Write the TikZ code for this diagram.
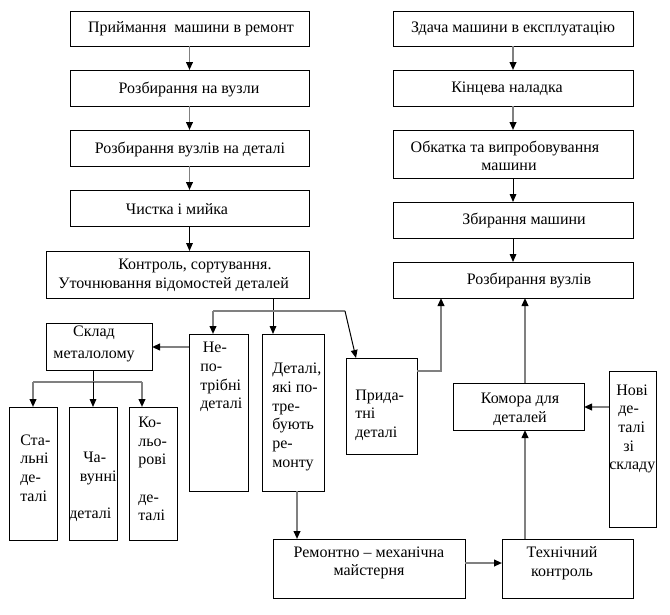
\documentclass[tikz,border=0pt]{standalone}
\usepackage{fontspec}
\setmainfont{Liberation Serif}
\usetikzlibrary{arrows.meta}
\newcommand\mkbox[5]{\node[box,minimum width={(#4-#2)*0.75pt},minimum height={(#5-#3)*0.75pt}] (#1) at ({(#2+#4)/2},{(#3+#5)/2}) {};}
\begin{document}
\begin{tikzpicture}[x=0.75pt,y=-0.75pt,
  box/.style={draw,line width=0.75pt,inner sep=0pt,outer sep=0pt},
  txt/.style={inner sep=0pt,font=\fontsize{12}{14}\selectfont},
  tipk/.style={-{Triangle[width=5pt,length=6pt,fill=black,color=black]}},
  conn/.style={draw=black!50,line width=1.3pt,tipk},
  connk/.style={draw=black,line width=0.75pt,tipk},
  ln/.style={draw=black!50,line width=1.3pt}]
\useasboundingbox (0,0) rectangle (670,614);
% left column
\mkbox{prym}{70}{11}{309}{46}
\mkbox{rnv}{70}{70}{309}{106}
\mkbox{rvd}{70}{130}{309}{166}
\mkbox{chyst}{70}{190}{309}{226}
\mkbox{kontrol}{46}{251}{309}{298}
\mkbox{sklad}{46}{323}{152}{370}
\mkbox{stal}{9}{407}{57}{540}
\mkbox{chav}{69}{407}{117}{540}
\mkbox{kolor}{129}{407}{177}{540}
\mkbox{nepotr}{189}{334}{248}{491}
\mkbox{detal}{262}{334}{324}{491}
\mkbox{pryd}{346}{358}{417}{454}
\mkbox{remont}{273}{539}{465}{598}
\mkbox{tekh}{502}{539}{633}{598}
\mkbox{komora}{453}{383}{584}{430}
\mkbox{novi}{609}{371}{656}{527}
% right column
\mkbox{zdacha}{393}{11}{633}{46}
\mkbox{kinc}{393}{70}{633}{106}
\mkbox{obk}{393}{130}{633}{178}
\mkbox{zbyr}{393}{202}{633}{238}
\mkbox{rv}{393}{262}{633}{298}

% texts
\node[txt] (tprym) at (191,29) {Приймання\ \ машини в ремонт};
\node[txt] (trnv) at (189,89) {Розбирання на вузли};
\node[txt] (trvd) at (190,149) {Розбирання вузлів на деталі};
\node[txt] (tchyst) at (177,209) {Чистка і мийка};
\node[txt,align=left,anchor=west] (tkontrol) at (58,275) {\hspace*{45pt}Контроль, сортування.\\Уточнювання відомостей деталей};
\node[txt,align=center,font=\fontsize{12}{16}\selectfont] (tsklad) at (94,344) {Склад\\металолому};
\node[txt,align=left,anchor=west] (tstal) at (20,468) {Ста-\\льні\\де-\\талі};
\node[txt,align=left,anchor=west] (tchav) at (69,487) {\hspace*{10.5pt}Ча-\\\hspace*{8pt}вунні\\[14pt]деталі};
\node[txt,align=left,anchor=west] (tkolor) at (138,469) {Ко-\\льо-\\рові\\[14pt]де-\\талі};
\node[txt,align=left,anchor=west] (tnepotr) at (200,377) {\hspace*{2pt}Не-\\по-\\трібні\\деталі};
\node[txt,align=left,anchor=west] (tdetal) at (272,417) {Деталі,\\які по-\\тре-\\бують\\ре-\\монту};
\node[txt,align=left,anchor=west] (tpryd) at (355,415) {Прида-\\тні\\деталі};
\node[txt,align=left,anchor=west] (tnovi) at (609,429) {\hspace*{5.25pt}Нові\\\hspace*{6.75pt}де-\\\hspace*{6.75pt}талі\\\hspace*{10.5pt}зі\\складу};
\node[txt,align=center] (tkomora) at (520,409) {Комора для\\деталей};
\node[txt,align=center] (tremont) at (369,563) {Ремонтно – механічна\\майстерня};
\node[txt,align=center] (ttekh) at (562,563) {Технічний\\контроль};
\node[txt] (tzdacha) at (513,29) {Здача машини в експлуатацію};
\node[txt] (tkinc) at (507,89) {Кінцева наладка};
\node[txt,align=center] (tobk) at (505,156) {Обкатка та випробовування\\\hspace*{6pt}машини};
\node[txt] (tzbyr) at (524,220) {Збирання машини};
\node[txt] (trv) at (529,280) {Розбирання вузлів};

% helper coordinates
\coordinate (split) at (273,311);
\coordinate (splitL) at (213,311);
\coordinate (splitR) at (345,311);
\coordinate (ny1) at (0,347);
\coordinate (sb) at (93,382);
\coordinate (sbL) at (33,382);
\coordinate (sbR) at (142,382);
\coordinate (dr) at (297,500);
\coordinate (rt) at (0,563);
\coordinate (vc) at (525,0);
\coordinate (ny2) at (0,407);
\coordinate (py) at (0,371);
\coordinate (px) at (441,0);

% left column connectors
\draw[conn] (prym.south) -- (rnv.north);
\draw[conn] (rnv.south) -- (rvd.north);
\draw[conn] (rvd.south) -- (chyst.north);
\draw[connk] (chyst.south) -- (kontrol.north -| chyst.south);
\draw[connk] (kontrol.south -| split) -- (detal.north -| split);
\draw[ln] (splitL) -- (splitR);
\draw[conn] (splitL) -- (nepotr.north -| splitL);
\draw[connk] (splitR) -- ([xshift=7.5pt]pryd.north west);
\draw[conn] (nepotr.west |- ny1) -- (sklad.east |- ny1);
\draw[draw=black,line width=0.75pt] (sklad.south -| sb) -- (sb);
\draw[ln] (sbL) -- (sbR);
\draw[conn] (sbL) -- (stal.north -| sbL);
\draw[connk] (sb) -- (chav.north -| sb);
\draw[conn] (sbR) -- (kolor.north -| sbR);
\draw[conn] (detal.south -| dr) -- (remont.north -| dr);
\draw[conn] (remont.east |- rt) -- (tekh.west |- rt);
\draw[conn] (tekh.north -| vc) -- (komora.south -| vc);
\draw[conn] (komora.north -| vc) -- (rv.south -| vc);
\draw[conn] (novi.west |- ny2) -- (komora.east |- ny2);
\draw[conn] (pryd.east |- py) -| (rv.south -| px);
% right column connectors
\draw[conn] (zdacha.south) -- (kinc.north);
\draw[conn] (kinc.south) -- (obk.north);
\draw[connk] (obk.south) -- (zbyr.north);
\draw[connk] (zbyr.south) -- (rv.north);
\end{tikzpicture}
\end{document}
